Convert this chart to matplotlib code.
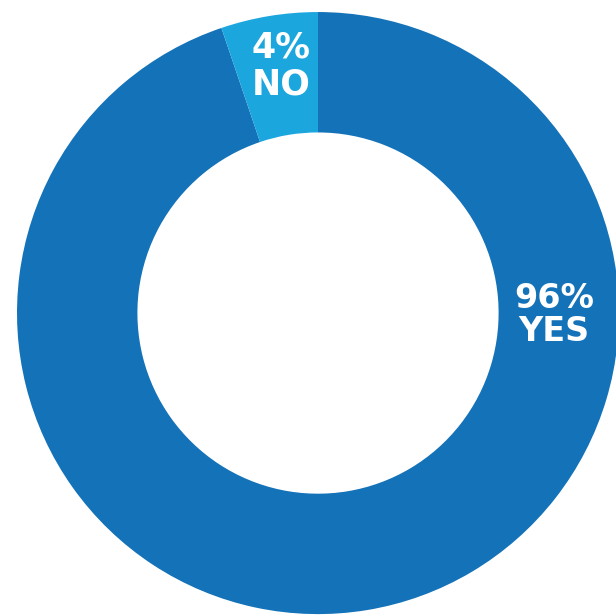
import matplotlib.pyplot as plt

answers = ['YES', 'NO']
shares = [94.8, 5.2]
labels = ['96%\nYES', '4%\nNO']
colors = ['#1372b8', '#1ca6de']

fig = plt.figure(figsize=(6.16, 6.15), dpi=100)
ax = fig.add_axes([0, 0, 1, 1])

ax.pie(shares, colors=colors, startangle=90, counterclock=False,
       radius=1.0, wedgeprops=dict(width=0.4, linewidth=0))

# labels on the ring
ax.text(0.785, -0.007, labels[0], color='white', fontsize=24, fontweight='bold',
        ha='center', va='center', linespacing=1.0, family='DejaVu Sans')
ax.text(-0.123, 0.82, labels[1], color='white', fontsize=25, fontweight='bold',
        ha='center', va='center', linespacing=1.1, family='DejaVu Sans')

ax.set_xlim(-1.0565, 0.990)
ax.set_ylim(-1.003, 1.040)
ax.set_aspect('auto')
ax.axis('off')

fig.savefig('out.png', dpi=100)
